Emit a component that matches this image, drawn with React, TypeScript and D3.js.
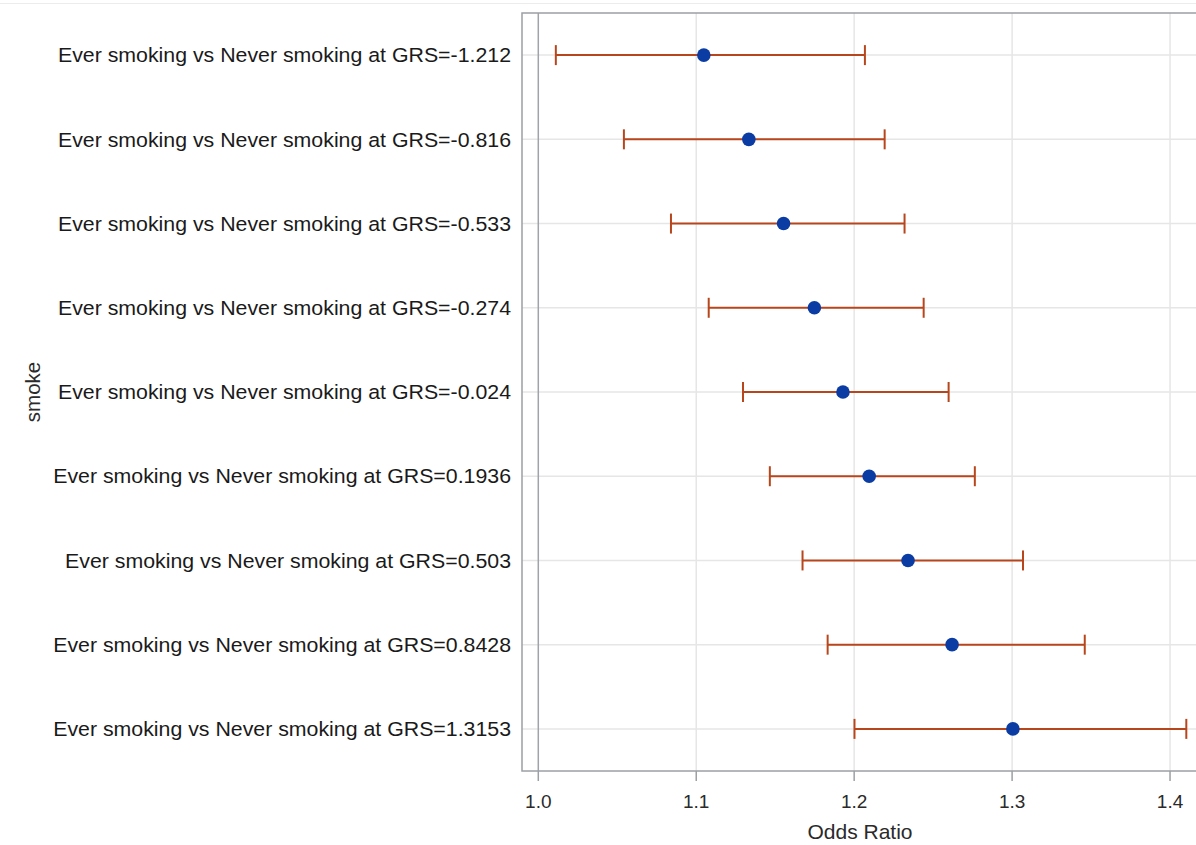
import { useEffect, useRef } from 'react';
import * as d3 from 'd3';

const grsLevels = ['-1.212', '-0.816', '-0.533', '-0.274', '-0.024', '0.1936', '0.503', '0.8428', '1.3153'];
const oddsRatio = [1.1048, 1.1333, 1.1553, 1.1748, 1.1929, 1.2095, 1.2341, 1.2620, 1.3005];
const lowerCL = [1.0111, 1.0542, 1.0840, 1.1079, 1.1296, 1.1466, 1.1673, 1.1832, 1.2002];
const upperCL = [1.2068, 1.2193, 1.2319, 1.2440, 1.2598, 1.2764, 1.3069, 1.3460, 1.4103];
const xTicks = [1.0, 1.1, 1.2, 1.3, 1.4];

const labels = grsLevels.map(g => `Ever smoking vs Never smoking at GRS=${g}`);
const rows = labels.map((label, i) => ({
  label,
  or: oddsRatio[i],
  lo: lowerCL[i],
  hi: upperCL[i],
}));

export default function App() {
  const svgRef = useRef<SVGSVGElement>(null);

  useEffect(() => {
    if (!svgRef.current) return;
    const svg = d3.select(svgRef.current);
    svg.selectAll('*').remove();

    const W = 1196;
    const H = 845;
    const margin = { top: 13, left: 522, bottom: 74, right: -14 };
    const left = margin.left;
    const right = W - margin.right;
    const top = margin.top;
    const bottom = H - margin.bottom;
    const font = '"Liberation Sans", Arial, sans-serif';

    const x = d3.scaleLinear().domain([0.98968, 1.4253]).range([left, right]);
    const y = d3.scaleBand().domain(labels).range([top, bottom]).padding(0);
    const cy = (d: string) => (y(d) ?? 0) + y.bandwidth() / 2;

    // faint outer border
    svg.append('line')
      .attr('x1', 0).attr('x2', W)
      .attr('y1', 3.5).attr('y2', 3.5)
      .attr('stroke', '#ececec').attr('stroke-width', 1);

    // grid
    const grid = svg.append('g');
    grid.selectAll('.vgrid')
      .data(xTicks.filter(t => t !== 1.0))
      .enter()
      .append('line')
      .attr('x1', d => x(d)).attr('x2', d => x(d))
      .attr('y1', top).attr('y2', bottom)
      .attr('stroke', '#e6e6e6').attr('stroke-width', 1.5);
    grid.selectAll('.hgrid')
      .data(labels)
      .enter()
      .append('line')
      .attr('x1', left).attr('x2', right)
      .attr('y1', d => cy(d)).attr('y2', d => cy(d))
      .attr('stroke', '#e6e6e6').attr('stroke-width', 1.5);

    // reference line at 1
    svg.append('line')
      .attr('x1', x(1)).attr('x2', x(1))
      .attr('y1', top).attr('y2', bottom)
      .attr('stroke', '#a0a4a8').attr('stroke-width', 1.5);

    // frame
    svg.append('rect')
      .attr('x', left).attr('y', top)
      .attr('width', right - left).attr('height', bottom - top)
      .attr('fill', 'none')
      .attr('stroke', '#9ca0a4').attr('stroke-width', 1.5);

    // x axis ticks + labels
    const xa = svg.append('g');
    xa.selectAll('.tick')
      .data(xTicks)
      .enter()
      .append('line')
      .attr('x1', d => x(d)).attr('x2', d => x(d))
      .attr('y1', bottom).attr('y2', bottom + 10)
      .attr('stroke', '#9ca0a4').attr('stroke-width', 1.5);
    xa.selectAll('.tlabel')
      .data(xTicks)
      .enter()
      .append('text')
      .attr('x', d => x(d))
      .attr('y', bottom + 37)
      .attr('text-anchor', 'middle')
      .attr('font-family', font)
      .attr('font-size', 19)
      .attr('fill', '#2a2a2a')
      .text(d => d3.format('.1f')(d));

    svg.append('text')
      .attr('x', 860)
      .attr('y', 839)
      .attr('text-anchor', 'middle')
      .attr('font-family', font)
      .attr('font-size', 21)
      .attr('fill', '#2a2a2a')
      .text('Odds Ratio');

    // y labels (slightly wide face, like the original renderer)
    svg.selectAll('.ylabel')
      .data(labels)
      .enter()
      .append('text')
      .attr('transform', d => `translate(${left - 11},${cy(d)}) scale(1.04,1)`)
      .attr('dy', '0.35em')
      .attr('text-anchor', 'end')
      .attr('font-family', font)
      .attr('font-size', 20.5)
      .attr('fill', '#1a1a1a')
      .text(d => d);

    svg.append('text')
      .attr('transform', `translate(40,${(top + bottom) / 2}) rotate(-90)`)
      .attr('text-anchor', 'middle')
      .attr('font-family', font)
      .attr('font-size', 20.5)
      .attr('fill', '#2a2a2a')
      .text('smoke');

    // error bars
    const bars = svg.append('g')
      .attr('stroke', '#b8461c')
      .attr('stroke-width', 2);
    bars.selectAll('.bar')
      .data(rows)
      .enter()
      .append('line')
      .attr('x1', d => x(d.lo)).attr('x2', d => x(d.hi))
      .attr('y1', d => cy(d.label)).attr('y2', d => cy(d.label));
    bars.selectAll('.capL')
      .data(rows)
      .enter()
      .append('line')
      .attr('x1', d => x(d.lo)).attr('x2', d => x(d.lo))
      .attr('y1', d => cy(d.label) - 10).attr('y2', d => cy(d.label) + 10);
    bars.selectAll('.capH')
      .data(rows)
      .enter()
      .append('line')
      .attr('x1', d => x(d.hi)).attr('x2', d => x(d.hi))
      .attr('y1', d => cy(d.label) - 10).attr('y2', d => cy(d.label) + 10);

    // points
    svg.selectAll('.dot')
      .data(rows)
      .enter()
      .append('circle')
      .attr('cx', d => x(d.or))
      .attr('cy', d => cy(d.label))
      .attr('r', 6.8)
      .attr('fill', '#0a3ca3');
  }, []);

  return (
    <svg
      ref={svgRef}
      width={1196}
      height={845}
      style={{ position: 'absolute', left: 0, top: 0, background: '#fff' }}
    />
  );
}
